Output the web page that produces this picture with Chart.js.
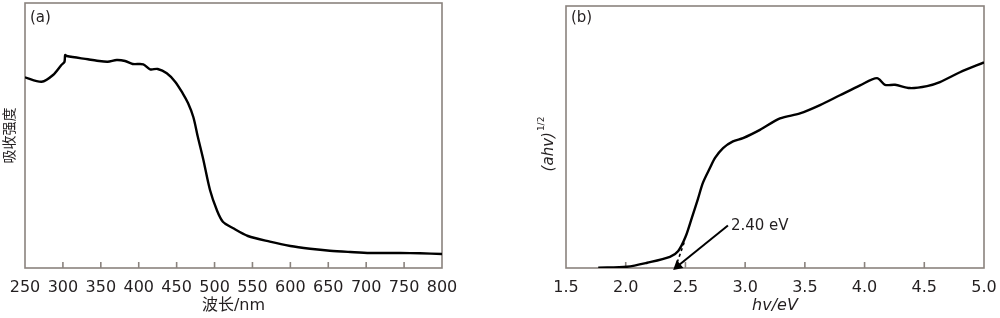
<!DOCTYPE html>
<html>
<head>
<meta charset="utf-8">
<script src="https://cdn.jsdelivr.net/npm/chart.js@4.4.1/dist/chart.umd.min.js"></script>
<style>
  html, body { margin: 0; padding: 0; background: #fff; }
  #wrap { position: relative; width: 1000px; height: 318px; }
  .panel { position: absolute; top: 0; height: 318px; }
</style>
</head>
<body>
<div id="wrap">
  <div class="panel" style="left:0;width:460px"><canvas id="absorb-chart"></canvas></div>
  <div class="panel" style="left:500px;width:500px"><canvas id="tauc-chart"></canvas></div>
</div>
<script>
// (a) UV-vis absorption
const wavelength = [250,272,287,298,302,303,305,333,345,359,371,382,392,406,415,425,437,448,458,465,472,478,485,494,503,511,524,544,573,600,626,652,679,705,745,771,800];
const absorbance = [190.7,186.3,193,203,206,213,212,208.7,207.3,206.3,208,207,204,203.7,198.7,199,194.7,186.3,174.7,165,151,131,109,78,58,46.3,40,32,26.3,22,19.3,17.3,16,15,15,14.7,14];

// (b) Tauc plot
const photonEnergy = [1.77,2.01,2.18,2.37,2.44,2.50,2.555,2.605,2.647,2.706,2.748,2.815,2.898,2.982,3.124,3.292,3.459,3.627,3.794,3.962,4.104,4.171,4.255,4.38,4.523,4.631,4.799,5.0];
const tauc = [0.3,1.3,5.3,11.3,17.3,31.3,51.3,70,86.3,101.3,111.3,121.3,128,131.3,139.7,151.3,156.3,164.7,174.7,184.7,192,185.3,185.3,182,184,188,198,208];

const tangentX = [2.415, 2.49];
const tangentY = [0, 26];
const arrowX = [2.856, 2.436];
const arrowY = [43, 2];
const bandGapLabel = "2.40 eV";

const textColor = "#231f20";
const axisColor = "#8a837e";
const fontFam = "'DejaVu Sans', 'Noto Sans CJK SC', sans-serif";

const toXY = (xs, ys) => xs.map((v, i) => ({ x: v, y: ys[i] }));

// box round the plot + small ticks pointing inwards
const frameTicks = {
  id: "frameTicks",
  beforeDatasetsDraw(chart) {
    const { ctx, chartArea: a } = chart;
    const x = chart.scales.x;
    ctx.save();
    ctx.strokeStyle = axisColor;
    ctx.lineWidth = 1.6;
    ctx.strokeRect(a.left, a.top, a.right - a.left, a.bottom - a.top);
    x.ticks.forEach(t => {
      const px = x.getPixelForValue(t.value);
      if (px <= a.left + 1 || px >= a.right - 1) return;
      ctx.beginPath();
      ctx.moveTo(px, a.bottom);
      ctx.lineTo(px, a.bottom - 6);
      ctx.stroke();
    });
    ctx.restore();
  }
};

function panelTag(text) {
  return {
    id: "panelTag",
    afterDraw(chart) {
      const { ctx, chartArea: a } = chart;
      ctx.save();
      ctx.fillStyle = textColor;
      ctx.font = "15px " + fontFam;
      ctx.textBaseline = "middle";
      ctx.textAlign = "left";
      ctx.fillText(text, a.left + 5, 18);
      ctx.restore();
    }
  };
}

function xScale(min, max, step, title, italic, fmt) {
  return {
    type: "linear",
    min: min, max: max,
    grid: { display: false },
    border: { display: false },
    ticks: {
      stepSize: step, autoSkip: false, maxRotation: 0, padding: 2,
      color: textColor, font: { family: fontFam, size: 16 },
      callback: fmt
    },
    title: {
      display: true, text: title, color: textColor,
      font: { family: fontFam, size: 16, style: italic ? "italic" : "normal" },
      padding: { top: 0, bottom: 3 }
    },
    afterFit: s => { s.height = 50; s.paddingLeft = 0; s.paddingRight = 0; }
  };
}

function yScale(width, title) {
  return {
    min: 0, max: 265,
    grid: { display: false },
    border: { display: false },
    ticks: { display: false },
    title: title ? {
      display: true, text: title, color: textColor,
      font: { family: fontFam, size: 14 },
      padding: { top: 2, bottom: 0 }
    } : { display: false },
    afterFit: s => { s.width = width; s.paddingTop = 0; s.paddingBottom = 0; }
  };
}

new Chart("absorb-chart", {
  type: "line",
  data: {
    datasets: [{
      data: toXY(wavelength, absorbance),
      borderColor: "#000",
      borderWidth: 2.4,
      pointRadius: 0,
      tension: 0.3
    }]
  },
  options: {
    animation: false,
    responsive: true,
    maintainAspectRatio: false,
    layout: { padding: { top: 3, right: 18, bottom: 0, left: 0 } },
    plugins: { legend: { display: false }, tooltip: { enabled: false } },
    scales: {
      x: xScale(250, 800, 50, "波长/nm", false, v => v),
      y: yScale(25, "吸收强度")
    }
  },
  plugins: [frameTicks, panelTag("(a)")]
});

// y title with superscript, drawn by hand
const taucTitle = {
  id: "taucTitle",
  afterDraw(chart) {
    const ctx = chart.ctx;
    ctx.save();
    ctx.translate(49, 144);
    ctx.rotate(-Math.PI / 2);
    ctx.fillStyle = textColor;
    ctx.textBaseline = "middle";
    ctx.textAlign = "left";
    ctx.font = "italic 15px " + fontFam;
    const main = "(ahv)";
    const w = ctx.measureText(main).width;
    ctx.font = "9px " + fontFam;
    const ws = ctx.measureText("1/2").width;
    const start = -(w + ws + 1) / 2;
    ctx.font = "italic 15px " + fontFam;
    ctx.fillText(main, start, 0);
    ctx.font = "9px " + fontFam;
    ctx.fillText("1/2", start + w + 1, -7);
    ctx.restore();
  }
};

const bandGapText = {
  id: "bandGapText",
  afterDraw(chart) {
    const { ctx, scales: { x, y } } = chart;
    ctx.save();
    ctx.fillStyle = textColor;
    ctx.font = "15px " + fontFam;
    ctx.textBaseline = "middle";
    ctx.textAlign = "left";
    ctx.fillText(bandGapLabel, x.getPixelForValue(arrowX[0]) + 3, y.getPixelForValue(arrowY[0]) + 1);
    ctx.restore();
  }
};

new Chart("tauc-chart", {
  type: "line",
  data: {
    datasets: [
      {
        data: toXY(photonEnergy, tauc),
        borderColor: "#000",
        borderWidth: 2.4,
        pointRadius: 0,
        tension: 0.3
      },
      {
        data: toXY(tangentX, tangentY),
        borderColor: "#000",
        borderWidth: 1.6,
        borderDash: [3, 3],
        pointRadius: 0
      },
      {
        data: toXY(arrowX, arrowY),
        borderColor: "#000",
        backgroundColor: "#000",
        borderWidth: 2,
        pointRadius: [0, 4],
        pointStyle: "triangle",
        rotation: 230,
        clip: false
      }
    ]
  },
  options: {
    animation: false,
    responsive: true,
    maintainAspectRatio: false,
    layout: { padding: { top: 3, right: 16, bottom: 0, left: 0 } },
    plugins: { legend: { display: false }, tooltip: { enabled: false } },
    scales: {
      x: xScale(1.5, 5.0, 0.5, "hv/eV", true, v => v.toFixed(1)),
      y: yScale(66, null)
    }
  },
  plugins: [frameTicks, panelTag("(b)"), taucTitle, bandGapText]
});
</script>
</body>
</html>
